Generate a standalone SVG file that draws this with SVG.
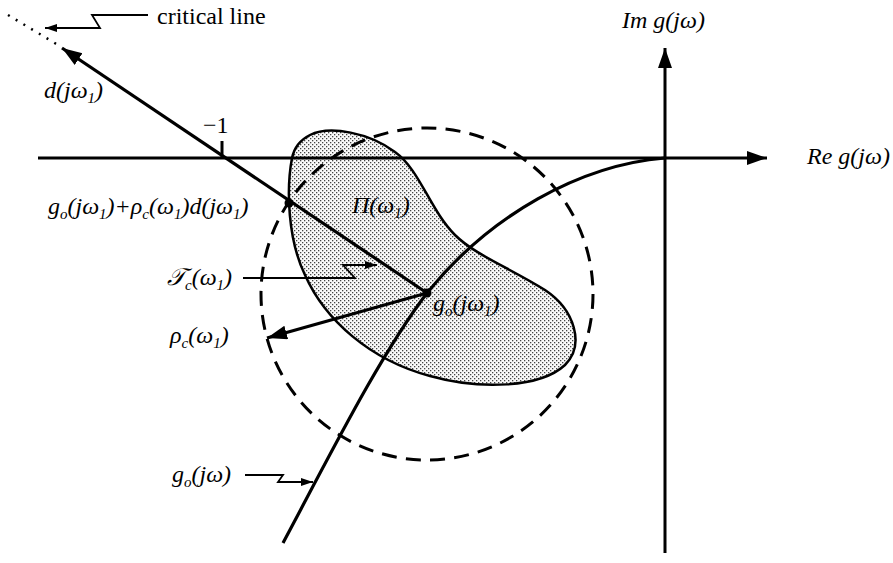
<svg xmlns="http://www.w3.org/2000/svg" width="893" height="563" viewBox="0 0 893 563">
<style>
.lbl{font-family:"Liberation Serif","DejaVu Serif",serif;font-style:italic;font-size:24px;fill:#000}
.rom{font-family:"Liberation Serif","DejaVu Serif",serif;font-size:24px;fill:#000}
.sub{font-size:15px}
.thick{fill:none;stroke:#000;stroke-width:3.2}
.ax{fill:none;stroke:#000;stroke-width:3}
.lead{fill:none;stroke:#000;stroke-width:1.8}
</style>
<defs>
<pattern id="dots" width="4" height="4" patternUnits="userSpaceOnUse">
<rect width="4" height="4" fill="#fafafa"/>
<rect x="0" y="0" width="1.3" height="1.3" fill="#444"/>
<rect x="2" y="2" width="1.3" height="1.3" fill="#444"/>
</pattern>
<marker id="big" markerUnits="userSpaceOnUse" markerWidth="22" markerHeight="16" refX="20" refY="7" orient="auto">
<path d="M0,0 L20,7 L0,14 Z" fill="#000"/>
</marker>
<marker id="small" markerUnits="userSpaceOnUse" markerWidth="14" markerHeight="10" refX="12" refY="4" orient="auto">
<path d="M0,0 L12,4 L0,8 Z" fill="#000"/>
</marker>
</defs>
<rect width="893" height="563" fill="#fff"/>

<g id="template-blob">
<path d="M292,158 C286,190 288,240 305,275 C325,320 370,360 430,376 C480,390 540,388 565,365 C585,345 575,310 545,290 C510,268 475,255 455,235 C430,210 420,170 395,152 C370,133 330,125 310,135 C300,140 294,148 292,158 Z" fill="url(#dots)" stroke="#000" stroke-width="2.5"/>
</g>

<g id="dashed-circle">
<circle cx="427" cy="294" r="166" fill="none" stroke="#000" stroke-width="3" stroke-dasharray="15 9.26"/>
</g>

<g id="axes">
<line class="ax" x1="38" y1="158" x2="767" y2="158" marker-end="url(#big)"/>
<line class="ax" x1="665" y1="553" x2="665" y2="48" marker-end="url(#big)"/>
<line class="ax" x1="222" y1="141" x2="222" y2="158"/>
</g>

<g id="nyquist-curve">
<path class="thick" d="M283,543 C330,455 380,355 427,293 C490,215 580,165 665,158"/>
</g>

<g id="connectors">
<line class="thick" x1="427" y1="293" x2="62" y2="48" marker-end="url(#big)"/>
<line x1="8" y1="15" x2="58" y2="45" stroke="#000" stroke-width="2.5" stroke-dasharray="2 7"/>
<line class="thick" x1="427" y1="293" x2="267" y2="338" marker-end="url(#big)"/>
<path class="lead" d="M148,15 H92 L100,28 H45" marker-end="url(#small)"/>
<path class="lead" d="M243,278 H355 L343,265 H377" marker-end="url(#small)"/>
<path class="lead" d="M245,475 H283 L278,482 H313" marker-end="url(#small)"/>
</g>

<g id="points">
<circle cx="289" cy="203" r="4.5" fill="#000"/>
<circle cx="427" cy="293" r="4.5" fill="#000"/>
</g>

<g id="labels">
<text class="rom" x="157" y="24">critical line</text>
<text class="lbl" x="622" y="28">Im g(jω)</text>
<text class="lbl" x="807" y="164">Re g(jω)</text>
<text class="rom" x="203" y="133">−1</text>
<text class="lbl" x="44" y="98">d(jω<tspan class="sub" dy="5">1</tspan><tspan dy="-5">)</tspan></text>
<text class="lbl" x="48" y="214">g<tspan class="sub" dy="5">o</tspan><tspan dy="-5">(jω</tspan><tspan class="sub" dy="5">1</tspan><tspan dy="-5">)+ρ</tspan><tspan class="sub" dy="5">c</tspan><tspan dy="-5">(ω</tspan><tspan class="sub" dy="5">1</tspan><tspan dy="-5">)d(jω</tspan><tspan class="sub" dy="5">1</tspan><tspan dy="-5">)</tspan></text>
<text class="lbl" x="352" y="213">Π(ω<tspan class="sub" dy="5">1</tspan><tspan dy="-5">)</tspan></text>
<text class="lbl" x="167" y="285">𝒯<tspan class="sub" dy="5">c</tspan><tspan dy="-5">(ω</tspan><tspan class="sub" dy="5">1</tspan><tspan dy="-5">)</tspan></text>
<text class="lbl" x="170" y="343">ρ<tspan class="sub" dy="5">c</tspan><tspan dy="-5">(ω</tspan><tspan class="sub" dy="5">1</tspan><tspan dy="-5">)</tspan></text>
<text class="lbl" x="433" y="311">g<tspan class="sub" dy="5">o</tspan><tspan dy="-5">(jω</tspan><tspan class="sub" dy="5">1</tspan><tspan dy="-5">)</tspan></text>
<text class="lbl" x="172" y="482">g<tspan class="sub" dy="5">o</tspan><tspan dy="-5">(jω)</tspan></text>
</g>
</svg>
